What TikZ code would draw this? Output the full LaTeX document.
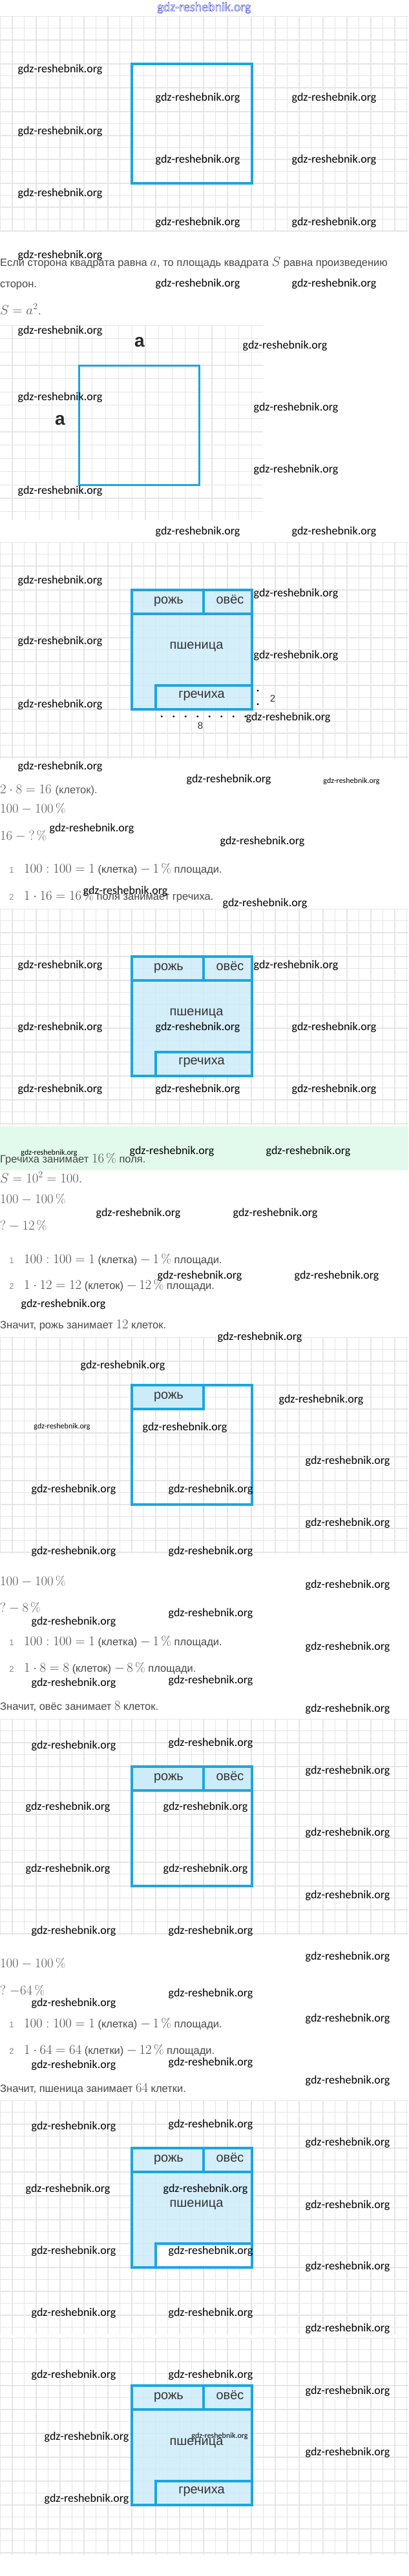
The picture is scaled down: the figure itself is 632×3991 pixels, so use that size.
\documentclass[tikz,border=0pt]{standalone}
\usepackage{fontspec}
\newfontfamily\bodyfont{Liberation Sans}
\newfontfamily\markfont{Carlito}
\definecolor{fieldblue}{RGB}{28,165,226}
\definecolor{fieldfill}{RGB}{205,236,250}
\definecolor{gridgray}{RGB}{230,230,230}
\definecolor{textgray}{RGB}{72,72,72}
\definecolor{mathgray}{RGB}{88,88,88}
\definecolor{mintband}{RGB}{226,250,235}
\definecolor{headblue}{RGB}{50,62,215}

% squared paper: top, bottom, right edge, first x line, cell
\newcommand{\papergrid}[5]{%
  \begin{scope}
    \clip (0,#1) rectangle (#3,#2);
    \foreach \gx in {0,...,34} \draw[gridline] ({#4+\gx*#5},#1) -- ({#4+\gx*#5},#2);
    \foreach \gy in {0,...,20} \draw[gridline] (0,{#1+\gy*#5}) -- (#3,{#1+\gy*#5});
  \end{scope}}
\newcommand{\mth}[1]{{\fontsize{20}{22}\selectfont$#1$}}

\begin{document}
\begin{tikzpicture}[x=1pt,y=-1pt,
    gridline/.style={draw=gridgray,line width=1.3pt},
    plot/.style={draw=fieldblue,line width=3.6pt,line join=miter},
    croplabel/.style={inner sep=0pt,anchor=mid,text=black!80,font=\bodyfont\fontsize{20}{22}\selectfont},
    textline/.style={inner sep=0pt,anchor=mid west,text=textgray,font=\bodyfont\fontsize{16.5}{18}\selectfont},
    mathline/.style={inner sep=0pt,anchor=mid west,text=mathgray,font=\fontsize{20}{22}\selectfont},
    itemnum/.style={inner sep=0pt,anchor=mid,text=black!45,font=\bodyfont\fontsize{13}{13}\selectfont},
    sidelabel/.style={inner sep=0pt,anchor=mid,text=black!85,font=\bodyfont\bfseries\fontsize{28}{28}\selectfont},
    wmark/.style={inner sep=0pt,text=black,font=\markfont\fontsize{18}{18}\selectfont}]
  \useasboundingbox (0,0) rectangle (632,3991);
  \fill[white] (0,0) rectangle (632,3991);

  \papergrid{25}{358}{632}{0.5}{18.5}
  \papergrid{504.2}{806}{407}{-1.6}{20.6}
  \papergrid{840}{1176}{632}{0.5}{18.5}
  \papergrid{1408}{1743}{632}{0.5}{18.5}
  \papergrid{2072}{2407}{632}{0.5}{18.5}
  \papergrid{2663}{2998}{632}{0.5}{18.5}
  \papergrid{3254}{3617}{632}{0.5}{18.5}
  \papergrid{3622}{3958}{632}{0.5}{18.5}
  \fill[mintband] (0,1745) rectangle (632,1813);

  \node[text=headblue,font=\markfont\fontsize{20}{20}\selectfont,inner sep=0pt] (head) at (316,12)
    {\special{pdf:literal direct 1 Tr 0.5 w}gdz-reshebnik.org\special{pdf:literal direct 0 Tr}};

  % square and its side
  \draw[plot,line width=3.8pt] (204,99) rectangle (390,284);
  \node[textline] (rule1) at (0,410) {Если сторона квадрата равна \mth{a}, то площадь квадрата \mth{S} равна произведению};
  \node[textline] (rule2) at (0,443) {сторон.};
  \node[mathline] (rule3) at (0,485) {$S=a^2.$};
  \draw[plot,line width=3pt] (122,566) rectangle (308,751);
  \node[sidelabel] (atop) at (216,535) {a};
  \node[sidelabel] (aleft) at (93,656) {a};

  % field with all crops and the buckwheat sizes
  \begin{scope}[shift={(0,914)}]
    \fill[fieldfill,fill opacity=0.85] (204,0) rectangle (390,185);
    \draw[plot] (204,37) -- (390,37) (315,0) -- (315,37) (241,185) -- (241,148) -- (390,148);
    \draw[plot] (204,0) rectangle (390,185);
    \node[croplabel] (rye3) at (261,19) {рожь};
    \node[croplabel] (oats3) at (356,19) {овёс};
    \node[croplabel] (wheat3) at (304,89) {пшеница};
    \node[croplabel] (buck3) at (312,165) {гречиха};
    \foreach \dy in {156,177} \fill (399,\dy) circle[radius=1.6pt];
    \foreach \k in {0,...,7} \fill ({250.25+\k*18.5},196) circle[radius=1.6pt];
    \node[croplabel,font=\bodyfont\fontsize{15}{15}\selectfont,anchor=center] (two) at (422,168) {2};
    \node[croplabel,font=\bodyfont\fontsize{15}{15}\selectfont,anchor=center] (eight) at (310,210) {8};
  \end{scope}

  \node[mathline] (calc1) at (0,1227) {$2\cdot 8=16$ {\bodyfont\fontsize{16.5}{18}\selectfont(клеток).}};
  \node[mathline] (calc2) at (0,1257) {$100-100\,\%$};
  \node[mathline] (calc3) at (0,1299) {$16-{?}\,\%$};
  \node[itemnum] (n1) at (18,1350) {1};
  \node[textline] (step1) at (37,1350) {\mth{100:100=1} (клетка) \mth{-\,1\,\%} площади.};
  \node[itemnum] (n2) at (18,1392) {2};
  \node[textline] (step2) at (37,1392) {\mth{1\cdot 16=16\,\%} поля занимает гречиха.};

  \begin{scope}[shift={(0,1482)}]
    \fill[fieldfill,fill opacity=0.85] (204,0) rectangle (390,185);
    \draw[plot] (204,37) -- (390,37) (315,0) -- (315,37) (241,185) -- (241,148) -- (390,148);
    \draw[plot] (204,0) rectangle (390,185);
    \node[croplabel] (rye4) at (261,19) {рожь};
    \node[croplabel] (oats4) at (356,19) {овёс};
    \node[croplabel] (wheat4) at (304,89) {пшеница};
    \node[croplabel] (buck4) at (312,165) {гречиха};
  \end{scope}

  \node[textline] (answer1) at (0,1799) {Гречиха занимает \mth{16\,\%} поля.};
  \node[mathline] (calc4) at (0,1830) {$S=10^2=100.$};
  \node[mathline] (calc5) at (0,1862) {$100-100\,\%$};
  \node[mathline] (calc6) at (0,1903) {$?-12\,\%$};
  \node[itemnum] (n3) at (18,1955) {1};
  \node[textline] (step3) at (37,1955) {\mth{100:100=1} (клетка) \mth{-\,1\,\%} площади.};
  \node[itemnum] (n4) at (18,1995) {2};
  \node[textline] (step4) at (37,1995) {\mth{1\cdot 12=12} (клеток) \mth{-\,12\,\%} площади.};
  \node[textline] (answer2) at (0,2056) {Значит, рожь занимает \mth{12} клеток.};

  % rye only
  \begin{scope}[shift={(0,2146)}]
    \fill[fieldfill] (204,0) rectangle (315,37);
    \draw[plot] (204,37) -- (315,37) -- (315,0);
    \draw[plot] (204,0) rectangle (390,185);
    \node[croplabel] (rye5) at (261,19) {рожь};
  \end{scope}

  \node[mathline] (calc7) at (0,2454) {$100-100\,\%$};
  \node[mathline] (calc8) at (0,2495) {$?-8\,\%$};
  \node[itemnum] (n5) at (18,2547) {1};
  \node[textline] (step5) at (37,2547) {\mth{100:100=1} (клетка) \mth{-\,1\,\%} площади.};
  \node[itemnum] (n6) at (18,2588) {2};
  \node[textline] (step6) at (37,2588) {\mth{1\cdot 8=8} (клеток) \mth{-\,8\,\%} площади.};
  \node[textline] (answer3) at (0,2647) {Значит, овёс занимает \mth{8} клеток.};

  % rye and oats
  \begin{scope}[shift={(0,2737)}]
    \fill[fieldfill] (204,0) rectangle (390,37);
    \draw[plot] (204,37) -- (390,37) (315,0) -- (315,37);
    \draw[plot] (204,0) rectangle (390,185);
    \node[croplabel] (rye6) at (261,19) {рожь};
    \node[croplabel] (oats6) at (356,19) {овёс};
  \end{scope}

  \node[mathline] (calc9) at (0,3046) {$100-100\,\%$};
  \node[mathline] (calc10) at (0,3088) {$?\;{-}64\,\%$};
  \node[itemnum] (n7) at (18,3139) {1};
  \node[textline] (step7) at (37,3139) {\mth{100:100=1} (клетка) \mth{-\,1\,\%} площади.};
  \node[itemnum] (n8) at (18,3180) {2};
  \node[textline] (step8) at (37,3180) {\mth{1\cdot 64=64} (клетки) \mth{-\,12\,\%} площади.};
  \node[textline] (answer4) at (0,3239) {Значит, пшеница занимает \mth{64} клетки.};

  % rye, oats, wheat
  \begin{scope}[shift={(0,3328)}]
    \fill[fieldfill,fill opacity=0.85] (204,0) rectangle (390,185);
    \fill[white] (241,148) rectangle (390,185);
    \draw[plot] (204,37) -- (390,37) (315,0) -- (315,37) (241,185) -- (241,148) -- (390,148);
    \draw[plot] (204,0) rectangle (390,185);
    \node[croplabel] (rye7) at (261,19) {рожь};
    \node[croplabel] (oats7) at (356,19) {овёс};
    \node[croplabel] (wheat7) at (304,89) {пшеница};
  \end{scope}

  % whole field
  \begin{scope}[shift={(0,3696)}]
    \fill[fieldfill,fill opacity=0.85] (204,0) rectangle (390,185);
    \draw[plot] (204,37) -- (390,37) (315,0) -- (315,37) (241,185) -- (241,148) -- (390,148);
    \draw[plot] (204,0) rectangle (390,185);
    \node[croplabel] (rye8) at (261,19) {рожь};
    \node[croplabel] (oats8) at (356,19) {овёс};
    \node[croplabel] (wheat8) at (304,90) {пшеница};
    \node[croplabel] (buck8) at (312,165) {гречиха};
  \end{scope}

  % watermarks on top
  \foreach \wx/\wy [count=\i] in {93/108,93/204,93/300,306/152,306/248,517/152,517/248,
      306/345,517/345,93/396,306/440,517/440,93/513,441/536,93/616,458/632,458/728,93/761,
      306/824,517/824,93/900,458/920,93/994,458/1016,93/1092,446/1112,93/1188,354/1208,
      142/1284,406/1304,194/1381,410/1400,93/1496,458/1496,93/1592,306/1592,517/1592,
      93/1688,306/1688,517/1688,266/1784,477/1784,214/1880,426/1880,309/1977,521/1977,
      98/2021,402/2072,190/2116,497/2169,286/2212,538/2264,114/2308,326/2308,538/2360,
      114/2404,326/2404,538/2456,326/2500,114/2513,538/2552,114/2608,326/2604,538/2648,
      114/2705,326/2701,538/2744,105/2800,318/2800,538/2840,105/2896,318/2896,538/2937,
      114/2992,326/2992,538/3032,326/3089,114/3104,538/3128,326/3196,114/3200,538/3224,
      114/3295,326/3292,538/3320,105/3392,318/3392,538/3417,114/3488,326/3488,538/3512,
      114/3584,326/3584,538/3608,114/3680,326/3680,538/3705,134/3776,134/3872,538/3800}
    \node[wmark] (wm\i) at (\wx,\wy) {gdz-reshebnik.org};
  \foreach \wx/\wy [count=\i] in {544/1210,76/1786,96/2210,340/3774}
    \node[wmark,font=\markfont\fontsize{12}{12}\selectfont] (wms\i) at (\wx,\wy) {gdz-reshebnik.org};
\end{tikzpicture}
\end{document}
